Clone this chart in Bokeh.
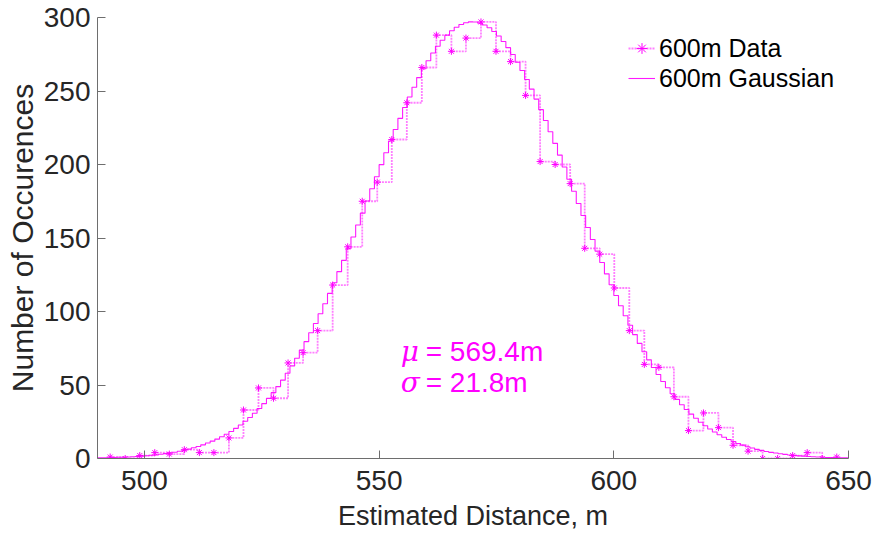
from bokeh.plotting import figure
from bokeh.models import Range1d, FixedTicker, Legend, LegendItem, ColumnDataSource
from bokeh.core.properties import value
from bokeh.embed import file_html
from bokeh.resources import INLINE

# ---- data ----
data_x = [492.7, 495.9, 499.0, 502.2, 505.3, 508.5, 511.7, 514.8, 518.0, 521.1,
          524.3, 527.5, 530.6, 533.8, 536.9, 540.1, 543.3, 546.4, 549.6, 552.7,
          555.9, 559.1, 562.2, 565.4, 568.5, 571.7, 574.9, 578.0, 581.2, 584.3,
          587.5, 590.7, 593.8, 597.0, 600.1, 603.3, 606.5, 609.6, 612.8, 615.9,
          619.1, 622.3, 625.4, 628.6, 631.7, 634.9, 638.1, 641.2, 644.4, 647.5]
data_counts = [1, 0, 2, 4, 3, 6, 4, 4, 14, 33,
               48, 41, 65, 72, 87, 118, 144, 175, 188, 217,
               242, 266, 288, 277, 286, 297, 277, 270, 247, 202,
               200, 187, 143, 139, 116, 87, 64, 62, 42, 19,
               31, 21, 9, 5, 0, 0, 2, 4, 0, 1]

gauss_x = list(range(490, 651))
gauss_counts = [
    0.4, 0.5, 0.5, 0.6, 0.8, 0.9, 1.0, 1.2, 1.4, 1.6,
    1.9, 2.2, 2.5, 2.9, 3.3, 3.8, 4.3, 4.9, 5.6, 6.4,
    7.3, 8.2, 9.3, 10.5, 11.8, 13.2, 14.8, 16.5, 18.4, 20.5,
    22.8, 25.3, 27.9, 30.8, 34.0, 37.3, 40.9, 44.8, 48.9, 53.3,
    58.0, 63.0, 68.2, 73.7, 79.5, 85.5, 91.8, 98.5, 105.3, 112.3,
    119.6, 127.1, 134.8, 142.7, 150.7, 158.8, 166.9, 175.2, 183.5, 191.7,
    199.9, 208.0, 216.0, 223.8, 231.4, 238.8, 245.9, 252.6, 259.1, 265.1,
    270.6, 275.8, 280.4, 284.5, 288.0, 291.0, 293.4, 295.2, 296.4, 297.0,
    296.9, 296.2, 294.9, 293.0, 290.5, 287.4, 283.7, 279.5, 274.8, 269.6,
    263.9, 257.8, 251.3, 244.5, 237.3, 229.9, 222.3, 214.4, 206.4, 198.3,
    190.0, 181.8, 173.5, 165.3, 157.1, 149.0, 141.1, 133.3, 125.6, 118.2,
    110.9, 103.9, 97.1, 90.6, 84.3, 78.3, 72.6, 67.1, 61.9, 57.1,
    52.4, 48.1, 44.0, 40.2, 36.6, 33.3, 30.2, 27.4, 24.7, 22.3,
    20.1, 18.0, 16.2, 14.5, 12.9, 11.5, 10.2, 9.1, 8.0, 7.1,
    6.2, 5.5, 4.8, 4.2, 3.7, 3.2, 2.8, 2.4, 2.1, 1.8,
    1.6, 1.4, 1.2, 1.0, 0.9, 0.7, 0.6, 0.5, 0.5, 0.4,
    0.3]

x_ticks = [500, 550, 600, 650]
y_ticks = [0, 50, 100, 150, 200, 250, 300]
series_labels = ["600m Data", "600m Gaussian"]
mu_text = ["\u03bc"]
mu_rest = ["= 569.4m"]
sigma_text = ["\u03c3"]
sigma_rest = ["= 21.8m"]
annot_x = [554.6]
mu_y = [73.0]
sigma_y = [51.5]

MAG = "#ff00ff"
FONT = "Liberation Sans"
TXT = "#262626"

p = figure(width=875, height=537, output_backend="svg", toolbar_location=None,
           x_range=Range1d(490, 650), y_range=Range1d(0, 300),
           min_border_left=97, min_border_right=27, min_border_top=17,
           min_border_bottom=79)
p.outline_line_color = None
p.xgrid.visible = False
p.ygrid.visible = False

for ax in (p.xaxis[0], p.yaxis[0]):
    ax.axis_line_color = "#6e6e6e"
    ax.major_tick_line_color = "#6e6e6e"
    ax.major_tick_in = 8
    ax.major_tick_out = 0
    ax.minor_tick_line_color = None
    ax.major_label_text_font = FONT
    ax.major_label_text_font_size = "28px"
    ax.major_label_text_color = TXT
    ax.axis_label_text_font = FONT
    ax.axis_label_text_font_size = "27px"
    ax.axis_label_text_font_style = "normal"
    ax.axis_label_text_color = TXT

p.yaxis.axis_label_text_font_size = "30px"
p.xaxis.ticker = FixedTicker(ticks=x_ticks)
p.yaxis.ticker = FixedTicker(ticks=y_ticks)
p.xaxis.axis_label = "Estimated Distance, m"
p.yaxis.axis_label = "Number of Occurences"
p.xaxis.major_label_standoff = 12
p.yaxis.major_label_standoff = 7
p.xaxis.axis_label_standoff = 8
p.yaxis.axis_label_standoff = 2

src_d = ColumnDataSource(dict(x=data_x, y=data_counts))
src_g = ColumnDataSource(dict(x=gauss_x, y=gauss_counts))

r_gauss = p.step("x", "y", source=src_g, mode="after", line_color=MAG,
                 line_width=1.1, line_alpha=0.9)
r_dstep = p.step("x", "y", source=src_d, mode="after", line_color=MAG,
                 line_width=1.8, line_alpha=0.5, line_dash="2 1")
r_dpts = p.scatter("x", "y", source=src_d, marker="asterisk", size=7,
                   line_color=MAG, line_width=1.0)

legend = Legend(items=[LegendItem(label=series_labels[0], renderers=[r_dstep, r_dpts]),
                       LegendItem(label=series_labels[1], renderers=[r_gauss])],
                location=(531, 365), border_line_color=None,
                background_fill_alpha=0, padding=0, margin=0, spacing=0,
                glyph_width=27, glyph_height=30, label_height=30,
                label_standoff=4, label_text_font=FONT,
                label_text_font_size="25px", label_text_color="#000000")
p.add_layout(legend)

p.text(x=annot_x, y=mu_y, text=mu_text, text_font=value("DejaVu Serif"),
       text_font_style="italic", text_font_size="28px", text_color=MAG,
       text_baseline="alphabetic")
p.text(x=annot_x, y=mu_y, text=mu_rest, x_offset=25, text_font=value(FONT),
       text_font_size="28px", text_color=MAG, text_baseline="alphabetic")
p.text(x=annot_x, y=sigma_y, text=sigma_text, text_font=value("DejaVu Serif"),
       text_font_style="italic", text_font_size="28px", text_color=MAG,
       text_baseline="alphabetic")
p.text(x=annot_x, y=sigma_y, text=sigma_rest, x_offset=25, text_font=value(FONT),
       text_font_size="28px", text_color=MAG, text_baseline="alphabetic")

open("out.html", "w").write(file_html(p, INLINE))
